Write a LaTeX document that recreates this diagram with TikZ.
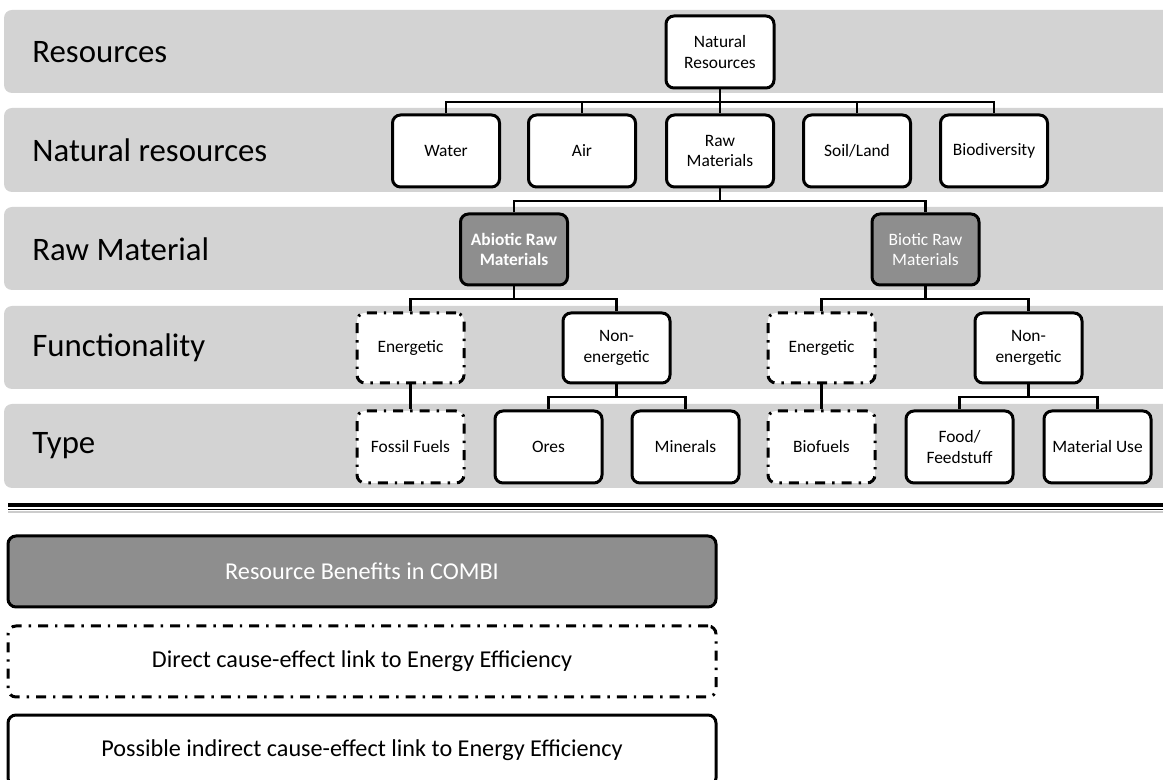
\documentclass[tikz,border=0pt]{standalone}
\usepackage{fontspec}
\setmainfont{Carlito}
\definecolor{bandgray}{HTML}{D3D3D3}
\definecolor{darkbox}{HTML}{8E8E8E}
\begin{document}
\begin{tikzpicture}[x=0.5pt,y=-0.5pt,
  band/.style={fill=bandgray, draw=none},
  bandlabel/.style={anchor=west, inner sep=0pt, font=\fontsize{16.4}{19}\selectfont},
  box/.style={draw, line width=1.5pt, rounded corners=4pt, fill=white, align=center,
    minimum width=53.5pt, minimum height=36pt, inner sep=1pt,
    font=\fontsize{8.7}{10.2}\selectfont},
  darkb/.style={box, fill=darkbox, text=white, minimum height=35.5pt},
  dashb/.style={box, dash pattern=on 5pt off 3.5pt on 1.2pt off 3.5pt},
  legbox/.style={box, minimum width=354pt, minimum height=35.5pt, font=\fontsize{12.1}{14}\selectfont},
  conn/.style={line width=1.2pt}]
\useasboundingbox (0,0) rectangle (1163,780);
\clip (0,0) rectangle (1163,780);
% bands
\foreach \t/\b in {10/93, 108/192, 207/290, 306/389, 404/488}{
  \fill[band, rounded corners=4pt] (4,\t) rectangle (1180,\b);
}
\node[bandlabel] (l1) at (32,52) {Resources};
\node[bandlabel] (l2) at (32,150) {Natural resources};
\node[bandlabel] (l3) at (32,249) {Raw Material};
\node[bandlabel] (l4) at (32,348) {Functionality};
\node[bandlabel] (l5) at (32,446) {Type};
% bar coordinates
\coordinate (b1) at (0,102);
\coordinate (b2) at (0,201);
\coordinate (b3) at (0,299);
\coordinate (b4) at (0,397);
% nodes
\node[box, minimum width=54pt] (nr) at (720,52) {Natural\\Resources};
\node[box] (water) at (446,151) {Water};
\node[box] (air) at (582,151) {Air};
\node[box] (raw) at (720,151) {Raw\\Materials};
\node[box] (soil) at (857,151) {Soil/Land};
\node[box] (bio) at (994,151) {Biodiversity};
\node[darkb, font=\fontsize{8.7}{10.2}\selectfont\bfseries] (abio) at (514,249.5) {Abiotic Raw\\Materials};
\node[darkb] (biot) at (925.5,249.5) {Biotic Raw\\Materials};
\node[dashb, minimum height=35pt] (en1) at (410.5,348) {Energetic};
\node[box, minimum height=35pt] (ne1) at (616.5,348) {Non-\\energetic};
\node[dashb, minimum height=35pt] (en2) at (821.5,348) {Energetic};
\node[box, minimum height=35pt] (ne2) at (1028.5,348) {Non-\\energetic};
\node[dashb] (ff) at (410.5,447) {Fossil Fuels};
\node[box] (ores) at (548.5,447) {Ores};
\node[box] (mins) at (685.5,447) {Minerals};
\node[dashb] (biof) at (821.5,447) {Biofuels};
\node[box] (food) at (959.5,447) {Food/\\Feedstuff};
\node[box] (mat) at (1097.5,447) {Material Use};
% connectors
\draw[conn] (nr.south) -- (nr.south |- b1);
\draw[conn] (water.north) -- (water.north |- b1) -- (bio.north |- b1) -- (bio.north);
\foreach \n in {air,raw,soil}{\draw[conn] (\n.north) -- (\n.north |- b1);}
\draw[conn] (raw.south) -- (raw.south |- b2);
\draw[conn] (abio.north) -- (abio.north |- b2) -- (biot.north |- b2) -- (biot.north);
\draw[conn] (abio.south) -- (abio.south |- b3);
\draw[conn] (en1.north) -- (en1.north |- b3) -- (ne1.north |- b3) -- (ne1.north);
\draw[conn] (biot.south) -- (biot.south |- b3);
\draw[conn] (en2.north) -- (en2.north |- b3) -- (ne2.north |- b3) -- (ne2.north);
\draw[conn] (en1.south) -- (ff.north);
\draw[conn] (en2.south) -- (biof.north);
\draw[conn] (ne1.south) -- (ne1.south |- b4);
\draw[conn] (ores.north) -- (ores.north |- b4) -- (mins.north |- b4) -- (mins.north);
\draw[conn] (ne2.south) -- (ne2.south |- b4);
\draw[conn] (food.north) -- (food.north |- b4) -- (mat.north |- b4) -- (mat.north);
% separator double line
\coordinate (s1) at (8,505);
\coordinate (s2) at (1163,505);
\coordinate (s3) at (8,509.5);
\coordinate (s4) at (1163,509.5);
\draw[line width=1.6pt] (s1) -- (s2);
\draw[line width=0.6pt] (s3) -- (s4);
\draw[line width=1pt, gray!40] (8,512) -- (1163,512);
% legend
\node[legbox, fill=darkbox, text=white] (leg1) at (362,571.5) {Resource Benefits in COMBI};
\node[legbox, dash pattern=on 5pt off 3.5pt on 1.2pt off 3.5pt] (leg2) at (362,661.5) {Direct cause-effect link to Energy Efficiency};
\node[legbox] (leg3) at (362,750.5) {Possible indirect cause-effect link to Energy Efficiency};
\end{tikzpicture}
\end{document}
